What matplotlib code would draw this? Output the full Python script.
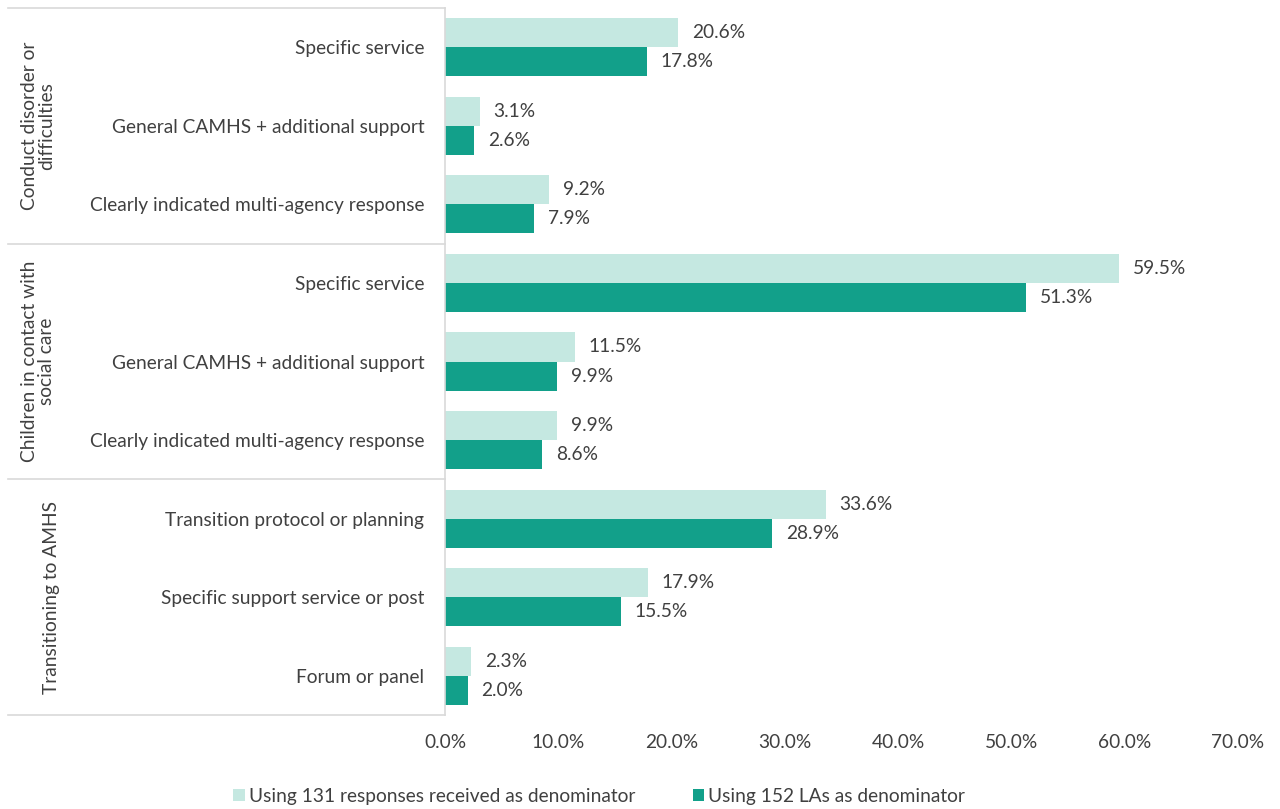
import numpy as np
import matplotlib
matplotlib.use("Agg")
import matplotlib.pyplot as plt
from matplotlib.transforms import blended_transform_factory
from matplotlib.ticker import FuncFormatter

plt.rcParams['font.family'] = ['Lato', 'DejaVu Sans']

# categories, top to bottom
categories = [
    "Specific service",
    "General CAMHS + additional support",
    "Clearly indicated multi-agency response",
    "Specific service",
    "General CAMHS + additional support",
    "Clearly indicated multi-agency response",
    "Transition protocol or planning",
    "Specific support service or post",
    "Forum or panel",
]
groups = ["Conduct disorder or\ndifficulties", "Children in contact with\nsocial care", "Transitioning to AMHS"]
group_sizes = [3, 3, 3]

responses_131 = [20.6, 3.1, 9.2, 59.5, 11.5, 9.9, 33.6, 17.9, 2.3]
las_152 = [17.8, 2.6, 7.9, 51.3, 9.9, 8.6, 28.9, 15.5, 2.0]

series_names = ["Using 131 responses received as denominator", "Using 152 LAs as denominator"]

light = "#c5e8e1"
dark = "#12a08a"
txt = "#404040"
grid = "#d9d9d9"
fs = 13.8

fig = plt.figure(figsize=(12.8, 8.09), dpi=100)
ax = fig.add_axes([445 / 1280, 1 - 715 / 809, (1238 - 445) / 1280, (715 - 8) / 809])

y = np.arange(len(categories))
h = 0.37
ax.barh(y - h / 2, responses_131, height=h, color=light, label=series_names[0])
ax.barh(y + h / 2, las_152, height=h, color=dark, label=series_names[1])

for yi, v in zip(y, responses_131):
    ax.text(v + 1.2, yi - h / 2, f"{v:.1f}%", va="center", ha="left", fontsize=fs, color=txt)
for yi, v in zip(y, las_152):
    ax.text(v + 1.2, yi + h / 2, f"{v:.1f}%", va="center", ha="left", fontsize=fs, color=txt)

ax.set_ylim(len(categories) - 0.5, -0.5)
ax.set_xlim(0, 70)
ax.set_xticks(np.arange(0, 71, 10))
ax.xaxis.set_major_formatter(FuncFormatter(lambda v, p: f"{v:.1f}%"))
ax.set_yticks(y)
ax.set_yticklabels(categories)
ax.tick_params(axis="y", length=0, pad=15, labelsize=fs, labelcolor=txt)
ax.tick_params(axis="x", length=0, pad=14, labelsize=fs, labelcolor=txt)

for s in ["top", "right", "bottom"]:
    ax.spines[s].set_visible(False)
ax.spines["left"].set_color(grid)
ax.spines["left"].set_linewidth(1.2)

# group separators running out to the left edge
trans = blended_transform_factory(ax.transAxes, ax.transData)
left_x = -(445 - 8) / (1238 - 445)
bounds = np.concatenate([[0], np.cumsum(group_sizes)]) - 0.5
for b in bounds:
    ax.plot([left_x, 0], [b, b], transform=trans, color=grid, lw=1.2, clip_on=False)

# rotated group labels
gtrans = blended_transform_factory(fig.transFigure, ax.transData)
gx = [38 / 1280, 38 / 1280, 52 / 1280]
for i, g in enumerate(groups):
    mid = (bounds[i] + bounds[i + 1]) / 2
    ax.text(gx[i], mid, g, transform=gtrans, rotation=90, ha="center", va="center",
            fontsize=fs, color=txt, multialignment="center", linespacing=1.0)

fig.legend(loc="lower center", bbox_to_anchor=(0.468, -0.016), ncol=2, frameon=False,
           handlelength=0.6, handleheight=0.6, handletextpad=0.2, columnspacing=3.0,
           fontsize=fs, labelcolor=txt)

fig.savefig("out.png", dpi=100, facecolor="white")
